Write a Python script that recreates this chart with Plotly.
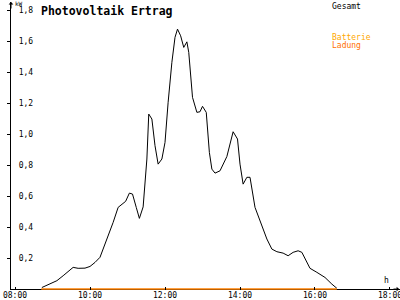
import plotly.graph_objects as go

# --- data ---
gesamt_times = ["08:43","08:56","09:07","09:17","09:25","09:33","09:41","09:52","10:00","10:08",
                "10:16","10:21","10:29","10:37","10:45","10:51","10:57","11:03","11:08","11:14",
                "11:19","11:25","11:31","11:34","11:39","11:44","11:49","11:55","12:00","12:05",
                "12:11","12:16","12:20","12:25","12:30","12:35","12:38","12:44","12:51","12:56",
                "13:00","13:06","13:11","13:15","13:20","13:28","13:39","13:49","13:56","14:00",
                "14:05","14:11","14:16","14:24","14:32","14:43","14:51","14:59","15:09","15:17",
                "15:25","15:33","15:39","15:52","16:03","16:16","16:27","16:35"]
gesamt_kw = [0.01,0.032,0.054,0.086,0.112,0.14,0.134,0.135,0.146,0.172,
             0.205,0.258,0.344,0.43,0.527,0.548,0.566,0.619,0.613,0.527,
             0.456,0.53,0.839,1.129,1.097,0.925,0.806,0.839,0.946,1.205,
             1.463,1.624,1.677,1.634,1.559,1.595,1.527,1.237,1.14,1.144,
             1.179,1.14,0.882,0.774,0.748,0.763,0.855,1.015,0.968,0.806,
             0.677,0.721,0.721,0.527,0.441,0.323,0.258,0.241,0.232,0.215,
             0.237,0.247,0.237,0.134,0.108,0.075,0.032,0.005]
ladung_times = ["08:42","16:35"]
ladung_kw = [0.0, 0.0]
batterie_times = []
batterie_kw = []
x_tick_hours = [8, 10, 12, 14, 16, 18]
x_tick_labels = ["08:00","10:00","12:00","14:00","16:00","18:00"]
y_tick_vals = [0.2,0.4,0.6,0.8,1.0,1.2,1.4,1.6,1.8]
y_tick_labels = ["0,2","0,4","0,6","0,8","1,0","1,2","1,4","1,6","1,8"]

def to_h(t):
    h, m = t.split(":")
    return int(h) + int(m) / 60.0

MONO = "DejaVu Sans Mono"
Y_RANGE = [-0.006, 1.852]

fig = go.Figure()
fig.add_trace(go.Scatter(x=[to_h(t) for t in gesamt_times], y=gesamt_kw, mode="lines",
                         line=dict(color="black", width=1), hoverinfo="skip", name="Gesamt"))
fig.add_trace(go.Scatter(x=[to_h(t) for t in ladung_times], y=ladung_kw, mode="lines",
                         line=dict(color="#FF8000", width=1.5), hoverinfo="skip", name="Ladung"))
fig.add_trace(go.Scatter(x=[to_h(t) for t in batterie_times], y=batterie_kw, mode="lines",
                         line=dict(color="#FFB000", width=1), hoverinfo="skip", name="Batterie",
                         yaxis="y2"))

fig.update_layout(
    width=400, height=300,
    margin=dict(l=11, r=0, t=2, b=10),
    paper_bgcolor="white", plot_bgcolor="white",
    showlegend=False,
    xaxis=dict(range=[7.893, 18.267], showgrid=False, zeroline=False, automargin=False,
               showline=False,
               tickmode="array", tickvals=x_tick_hours, ticktext=x_tick_labels,
               ticks="inside", ticklen=3, tickcolor="black", ticklabeloverflow="allow",
               ticklabelstandoff=-1,
               tickfont=dict(family=MONO, size=8, color="black")),
    yaxis=dict(range=Y_RANGE, showgrid=False, automargin=False,
               zeroline=True, zerolinecolor="black", zerolinewidth=1,
               showline=True, linecolor="black", linewidth=1,
               tickmode="array", tickvals=y_tick_vals,
               ticks="outside", ticklen=3, tickcolor="black", showticklabels=False),
    yaxis2=dict(range=Y_RANGE, overlaying="y", anchor="free", side="left", position=0.057,
                showgrid=False, zeroline=False, showline=False, automargin=False,
                tickmode="array", tickvals=y_tick_vals, ticktext=y_tick_labels,
                ticks="", ticklabelstandoff=0,
                tickfont=dict(family=MONO, size=8, color="black")),
    annotations=[
        dict(text="<b>Photovoltaik Ertrag</b>", xref="paper", yref="paper", x=0.073, y=1.0,
             xanchor="left", yanchor="top", showarrow=False,
             font=dict(family=MONO, size=11.5, color="black")),
        dict(text="kW", xref="paper", yref="paper", x=0.008, y=1.0, xanchor="left", yanchor="top",
             yshift=3, borderpad=0, showarrow=False, font=dict(family=MONO, size=6, color="black")),
        dict(text="h", xref="paper", yref="paper", x=0.965, y=0.0, xanchor="center", yanchor="bottom",
             yshift=3, showarrow=False, font=dict(family=MONO, size=8, color="black")),
        dict(text="Gesamt", xref="paper", yref="paper", x=0.82, y=1.0, xanchor="left", yanchor="top",
             yshift=2, showarrow=False, font=dict(family=MONO, size=8, color="black")),
        dict(text="Batterie", xref="paper", yref="paper", x=0.82, y=0.9, xanchor="left", yanchor="top",
             showarrow=False, font=dict(family=MONO, size=8, color="#FFA800")),
        dict(text="Ladung", xref="paper", yref="paper", x=0.82, y=0.872, xanchor="left", yanchor="top",
             showarrow=False, font=dict(family=MONO, size=8, color="#FF7000")),
        dict(text="", xref="paper", yref="paper", x=0, y=1.0, ax=0, ay=8, showarrow=True,
             arrowhead=1, arrowsize=0.8, arrowwidth=1, arrowcolor="black"),
        dict(text="", xref="paper", yref="y", x=1.0, y=0, ax=-8, ay=0, showarrow=True,
             arrowhead=1, arrowsize=0.8, arrowwidth=1, arrowcolor="black"),
    ],
)

fig.write_html("out.html")
